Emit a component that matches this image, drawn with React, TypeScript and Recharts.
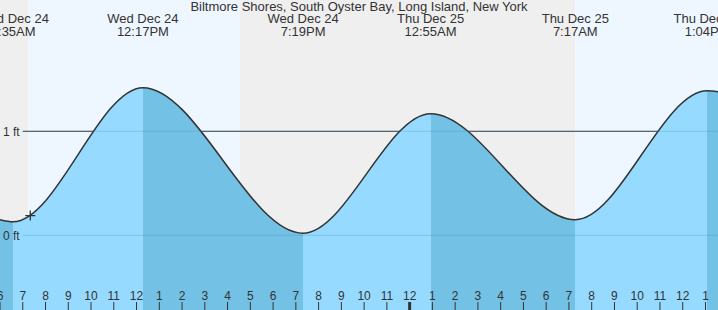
import {
  ComposedChart,
  Area,
  XAxis,
  YAxis,
  ReferenceArea,
  ReferenceLine,
  ReferenceDot,
} from "recharts";

const W = 718;
const H = 310;
const FONT = "'Liberation Sans', Arial, sans-serif";
const INK = "#333";

// hours are counted from Wed Dec 24, 00:00
const START_HOUR = 6;
const END_HOUR = 37.55;

const EXTREME_HOURS = [6.58, 12.28, 19.32, 24.92, 31.28, 37.07];
const EXTREME_FT = [0.13, 1.42, 0.02, 1.17, 0.15, 1.39];
const EXTREME_DAYS = ["Wed Dec 24", "Wed Dec 24", "Wed Dec 24", "Thu Dec 25", "Thu Dec 25", "Thu Dec 25"];
const EXTREME_TIMES = ["6:35AM", "12:17PM", "7:19PM", "12:55AM", "7:17AM", "1:04PM"];
const EDGE_FT = [0.15, 1.38];

// sunrise, sunset, sunrise
const SUN_HOURS = [7.25, 16.52, 31.27];

const HOUR_TICKS = [
  6, 7, 8, 9, 10, 11, 12, 13, 14, 15, 16, 17, 18, 19, 20, 21, 22, 23, 24, 25,
  26, 27, 28, 29, 30, 31, 32, 33, 34, 35, 36, 37,
];
const MIDNIGHT_HOUR = 24;
const FT_TICKS = [0, 1];
const LINE_FROM_HOUR = 7;

const NOW_HOUR = 7.33;
const NOW_FT = 0.19;

const Y_DOMAIN = [-0.718, 2.2625];

const DAY_BG = "#eef7ff";
const NIGHT_BG = "#efefef";
const RISE_FILL = "#96dbff";
const FALL_FILL = "#73c1e5";

const tideData = [
  { hour: START_HOUR, ft: EDGE_FT[0] },
  ...EXTREME_HOURS.map((h, i) => ({ hour: h, ft: EXTREME_FT[i] })),
  { hour: END_HOUR, ft: EDGE_FT[1] },
];

// hard colour stops: light while the tide rises, darker while it falls
const span = END_HOUR - START_HOUR;
const fillStops: { offset: number; color: string }[] = [];
for (let i = 0; i < tideData.length - 1; i++) {
  const a = tideData[i];
  const b = tideData[i + 1];
  const color = b.ft > a.ft ? RISE_FILL : FALL_FILL;
  fillStops.push({ offset: (a.hour - START_HOUR) / span, color });
  fillStops.push({ offset: (b.hour - START_HOUR) / span, color });
}

const bandEdges = [START_HOUR, ...SUN_HOURS, END_HOUR];
const bands = bandEdges.slice(0, -1).map((x1, i) => ({
  x1,
  x2: bandEdges[i + 1],
  fill: i % 2 === 0 ? NIGHT_BG : DAY_BG,
}));

function hourLabel(h: number) {
  return String(h % 12 || 12);
}

function HourTick(props: any) {
  const { x, y, payload } = props;
  const thick = payload.value === MIDNIGHT_HOUR;
  return (
    <g>
      <line x1={x} x2={x} y1={y - 8} y2={y} stroke={INK} strokeWidth={thick ? 3 : 1} />
      <text x={x} y={y - 10} textAnchor="middle" fill={INK} fontSize={12} fontFamily={FONT}>
        {hourLabel(payload.value)}
      </text>
    </g>
  );
}

function ExtremeTick(props: any) {
  const { x, y, index } = props;
  return (
    <text textAnchor="middle" fill={INK} fontSize={13} fontFamily={FONT}>
      <tspan x={x} y={y + 23}>{EXTREME_DAYS[index]}</tspan>
      <tspan x={x} y={y + 36}>{EXTREME_TIMES[index]}</tspan>
    </text>
  );
}

function NowMark(props: any) {
  const { cx, cy } = props;
  return (
    <path
      d={`M${cx - 5},${cy}H${cx + 5}M${cx},${cy - 5}V${cy + 5}`}
      stroke={INK}
      strokeWidth={1.3}
    />
  );
}

export default function App() {
  return (
    <div style={{ position: "absolute", left: 0, top: 0, width: W, height: H }}>
      <ComposedChart
        width={W}
        height={H}
        data={tideData}
        margin={{ top: 0, right: 0, bottom: 0, left: 0 }}
      >
        <defs>
          <linearGradient id="tideFill" gradientUnits="userSpaceOnUse" x1={0} y1={0} x2={W} y2={0}>
            {fillStops.map((s, i) => (
              <stop key={i} offset={s.offset} stopColor={s.color} />
            ))}
          </linearGradient>
        </defs>
        <XAxis
          dataKey="hour"
          type="number"
          domain={[START_HOUR, END_HOUR]}
          allowDataOverflow
          ticks={HOUR_TICKS}
          interval={0}
          mirror
          axisLine={false}
          tickLine={false}
          tickSize={0}
          tickMargin={0}
          tick={<HourTick />}
        />
        <XAxis
          xAxisId="top"
          orientation="top"
          dataKey="hour"
          type="number"
          domain={[START_HOUR, END_HOUR]}
          allowDataOverflow
          ticks={EXTREME_HOURS}
          interval={0}
          mirror
          axisLine={false}
          tickLine={false}
          tickSize={0}
          tickMargin={0}
          tick={<ExtremeTick />}
        />
        <YAxis
          type="number"
          domain={Y_DOMAIN}
          allowDataOverflow
          ticks={FT_TICKS}
          interval={0}
          mirror
          axisLine={false}
          tickLine={false}
          tickSize={0}
          tickMargin={3}
          tickFormatter={(v: number) => `${v} ft`}
          tick={{ fill: INK, fontSize: 12, fontFamily: FONT }}
        />
        {bands.map((b, i) => (
          <ReferenceArea
            key={i}
            x1={b.x1}
            x2={b.x2}
            fill={b.fill}
            fillOpacity={1}
            stroke="none"
            ifOverflow="visible"
            zIndex={-60}
          />
        ))}
        <ReferenceLine
          segment={[
            { x: LINE_FROM_HOUR, y: 1 },
            { x: END_HOUR, y: 1 },
          ]}
          stroke={INK}
          strokeWidth={1}
          zIndex={-50}
        />
        <Area
          type="monotone"
          dataKey="ft"
          baseValue="dataMin"
          stroke={INK}
          strokeWidth={1.5}
          fill="url(#tideFill)"
          fillOpacity={1}
          isAnimationActive={false}
          dot={false}
          activeDot={false}
        />
        {FT_TICKS.map((v) => (
          <ReferenceLine
            key={v}
            segment={[
              { x: LINE_FROM_HOUR, y: v },
              { x: END_HOUR, y: v },
            ]}
            stroke="#3b8cc4"
            strokeOpacity={0.3}
            strokeWidth={1}
            zIndex={150}
          />
        ))}
        <ReferenceDot x={NOW_HOUR} y={NOW_FT} r={5} shape={<NowMark />} zIndex={600} />
      </ComposedChart>
      <div
        style={{
          position: "absolute",
          left: 0,
          top: 0,
          width: W,
          textAlign: "center",
          fontFamily: FONT,
          fontSize: 13,
          lineHeight: "14px",
          color: INK,
        }}
      >
        Biltmore Shores, South Oyster Bay, Long Island, New York
      </div>
    </div>
  );
}
